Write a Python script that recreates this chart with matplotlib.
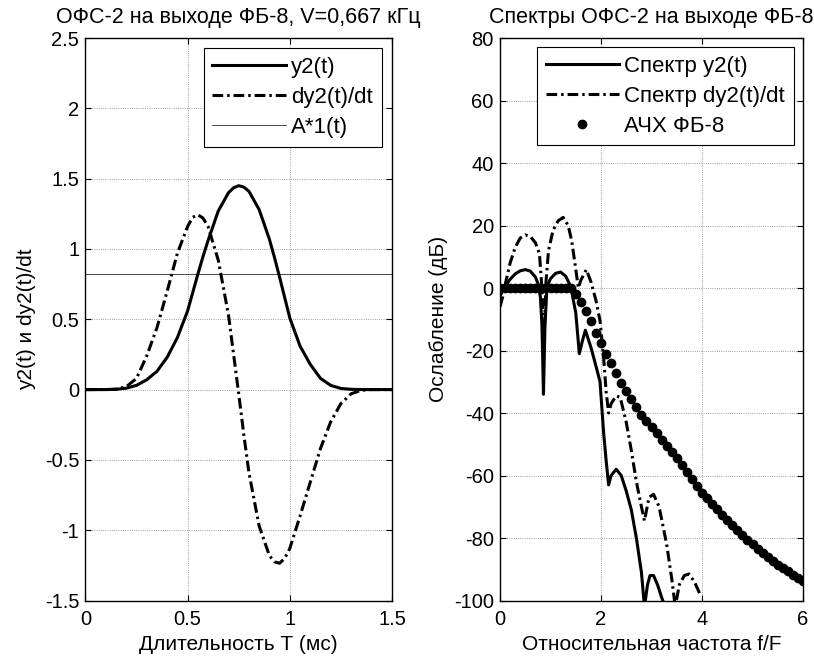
import matplotlib
matplotlib.use('Agg')
import matplotlib.pyplot as plt
import numpy as np

plt.rcParams['font.family'] = ['Liberation Sans', 'DejaVu Sans']
plt.rcParams['axes.unicode_minus'] = False
plt.rcParams['font.size'] = 14.5

# --- left panel: pulse and its derivative (time in ms)
t = [0.0, 0.05, 0.1, 0.15, 0.2, 0.25, 0.3, 0.35, 0.4, 0.45, 0.5, 0.525,
     0.55, 0.575, 0.6, 0.65, 0.7, 0.725, 0.75, 0.775, 0.8, 0.85, 0.9, 0.925,
     0.95, 0.975, 1.0, 1.05, 1.1, 1.15, 1.2, 1.25, 1.3, 1.35, 1.4, 1.45, 1.5]
y2 = [0.0, 0.0, 0.0, 0.002, 0.01, 0.03, 0.07, 0.13, 0.23, 0.37, 0.56, 0.69,
      0.82, 0.945, 1.06, 1.27, 1.40, 1.435, 1.45, 1.44, 1.41, 1.28, 1.07, 0.94,
      0.80, 0.655, 0.51, 0.31, 0.18, 0.08, 0.03, 0.008, 0.002, 0.0, 0.0, 0.0, 0.0]
dy2 = [0.0, 0.0, 0.0, 0.003, 0.02, 0.08, 0.24, 0.44, 0.70, 0.97, 1.16, 1.225,
       1.243, 1.22, 1.16, 0.92, 0.53, 0.25, -0.03, -0.32, -0.59, -0.97, -1.18, -1.225,
       -1.235, -1.2, -1.13, -0.90, -0.66, -0.42, -0.23, -0.10, -0.03, -0.005, 0.0, 0.0, 0.0]
a_level = 0.82

# --- right panel: spectra (relative frequency f/F, dB)
f_y2 = [0.0, 0.1, 0.2, 0.3, 0.4, 0.5, 0.6, 0.7, 0.75, 0.8, 0.83, 0.86,
        0.89, 0.93, 1.0, 1.1, 1.2, 1.3, 1.4, 1.5, 1.57, 1.63, 1.69, 1.8,
        1.9, 1.98, 2.05, 2.1, 2.15, 2.2, 2.3, 2.4, 2.5, 2.6, 2.7, 2.8,
        2.86, 2.92, 2.97, 3.04, 3.12, 3.2, 3.27]
s_y2 = [-2.5, 0.5, 2.8, 4.5, 5.5, 5.9, 5.4, 3.5, 1.5, -3, -12, -34,
        -12, 0.5, 3.0, 4.7, 5.1, 3.8, 0.5, -8, -21, -17, -13.5, -19,
        -25, -30, -46, -55, -63, -60, -58, -60, -65, -71, -80, -91,
        -102, -95, -92, -92, -95, -99, -102]

f_dy2 = [0.0, 0.05, 0.1, 0.2, 0.3, 0.4, 0.5, 0.6, 0.7, 0.78, 0.83, 0.87,
         0.91, 0.96, 1.05, 1.15, 1.25, 1.35, 1.42, 1.5, 1.55, 1.6, 1.71,
         1.8, 1.9, 1.98, 2.05, 2.1, 2.15, 2.2, 2.3, 2.38, 2.5, 2.6, 2.7,
         2.8, 2.86, 2.95, 3.04, 3.15, 3.3, 3.4, 3.47, 3.55, 3.65, 3.74,
         3.85, 3.96]
s_dy2 = [-6, -3, 1, 8, 13, 16, 17, 16.5, 14.5, 11, 0, -18,
         2, 12, 18.5, 21.5, 22.6, 20, 15, 6, 0, 2.5, 5.9,
         2, -4, -10.5, -22, -33, -40, -37, -34.5, -35, -43, -52, -62,
         -70, -74.5, -67, -66, -70, -82, -93, -102, -95, -92, -91.5,
         -94, -98]

f_afc = [0.0, 0.1, 0.2, 0.3, 0.4, 0.5, 0.6, 0.7, 0.8, 0.9, 1.0,
         1.1, 1.2, 1.3, 1.4, 1.5, 1.6, 1.7, 1.8, 1.9, 2.0,
         2.1, 2.2, 2.3, 2.4, 2.5, 2.6, 2.7, 2.8, 2.9, 3.0,
         3.1, 3.2, 3.3, 3.4, 3.5, 3.6, 3.7, 3.8, 3.9, 4.0,
         4.1, 4.2, 4.3, 4.4, 4.5, 4.6, 4.7, 4.8, 4.9, 5.0,
         5.1, 5.2, 5.3, 5.4, 5.5, 5.6, 5.7, 5.8, 5.9, 6.0]
s_afc = [0, 0, 0, 0, 0, 0, 0, 0, 0, 0, 0,
         0, 0, 0, 0, -2, -4.5, -7.3, -10.7, -14.3, -17.5,
         -21, -24, -27.3, -30.3, -33, -35.5, -38, -40.5, -42.5, -44.5,
         -46.5, -48.5, -50.5, -52.5, -54.5, -56.7, -59, -61.2, -63.4, -65.5,
         -67.3, -69.0, -70.8, -72.5, -74.2, -75.9, -77.5, -79.1, -80.6, -82.0,
         -83.4, -84.7, -86.0, -87.3, -88.5, -89.6, -90.7, -91.7, -92.7, -93.6]

dash = (3.5, 1.3, 0.8, 1.3)
lw_main = 2.2
title_size = 15.5
label_size = 15
legend_size = 16

fig = plt.figure(figsize=(8.14, 6.61), dpi=100)
ax1 = fig.add_axes([0.105, 0.0915, 0.3765, 0.851])
ax2 = fig.add_axes([0.6143, 0.0915, 0.3722, 0.851])


def style_axes(ax):
    ax.tick_params(direction='in', top=True, right=True, length=4, width=0.8)
    ax.tick_params(axis='x', pad=7)
    ax.tick_params(axis='y', pad=4.5)
    ax.grid(True, linestyle=':', color='0.5', linewidth=0.6)
    for s in ax.spines.values():
        s.set_linewidth(1.0)


def add_legend(ax, pad):
    leg = ax.legend(loc='upper right', fontsize=legend_size, handlelength=3.3,
                    handletextpad=0.25, borderpad=0.4, labelspacing=0.4,
                    fancybox=False, edgecolor='k', framealpha=1,
                    borderaxespad=pad)
    leg.get_frame().set_linewidth(0.8)
    return leg


ax1.plot(t, y2, color='k', lw=lw_main, label='y2(t)')
ax1.plot(t, dy2, color='k', lw=lw_main, dashes=dash, label='dy2(t)/dt')
ax1.plot(t, np.full(len(t), a_level), color='k', lw=0.5, label='A*1(t)')
ax1.set_xlim(0, 1.5)
ax1.set_ylim(-1.5, 2.5)
ax1.set_xticks([0, 0.5, 1, 1.5])
ax1.set_xticklabels(['0', '0.5', '1', '1.5'])
ax1.set_yticks([-1.5, -1, -0.5, 0, 0.5, 1, 1.5, 2, 2.5])
ax1.set_yticklabels(['-1.5', '-1', '-0.5', '0', '0.5', '1', '1.5', '2', '2.5'])
style_axes(ax1)
ax1.set_title('ОФС-2 на выходе ФБ-8, V=0,667 кГц', fontsize=title_size, pad=11)
ax1.set_xlabel('Длительность Т (мс)', fontsize=label_size, labelpad=4)
ax1.set_ylabel('y2(t) и dy2(t)/dt', fontsize=label_size, labelpad=6)
add_legend(ax1, 0.45)

ax2.plot(f_y2, s_y2, color='k', lw=lw_main, label='Спектр y2(t)')
ax2.plot(f_dy2, s_dy2, color='k', lw=lw_main, dashes=dash,
         label='Спектр dy2(t)/dt')
ax2.plot(f_afc, s_afc, 'o', color='k', markersize=6, label='АЧХ ФБ-8')
ax2.set_xlim(0, 6)
ax2.set_ylim(-100, 80)
ax2.set_xticks([0, 2, 4, 6])
ax2.set_yticks(range(-100, 81, 20))
style_axes(ax2)
ax2.set_title('Спектры ОФС-2 на выходе ФБ-8', fontsize=title_size, pad=11)
ax2.set_xlabel('Относительная частота f/F', fontsize=label_size, labelpad=4)
ax2.set_ylabel('Ослабление (дБ)', fontsize=label_size, labelpad=4)
add_legend(ax2, 0.4)

fig.savefig('out.png', dpi=100)
